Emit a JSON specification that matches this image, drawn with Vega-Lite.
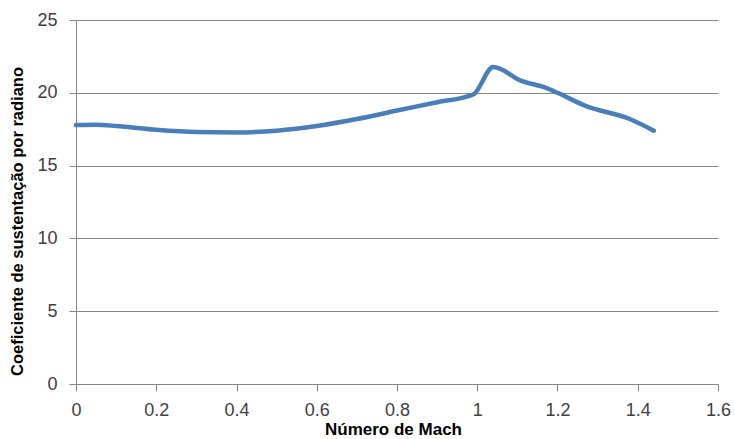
{
  "$schema": "https://vega.github.io/schema/vega-lite/v6.json",
  "width": 642,
  "height": 364,
  "autosize": "none",
  "padding": {"left": 76, "top": 20, "right": 17, "bottom": 55},
  "background": "white",
  "config": {
    "view": {"stroke": null},
    "font": "Liberation Sans",
    "axis": {
      "labelFont": "Liberation Sans",
      "labelFontSize": 18,
      "labelColor": "#404040",
      "titleFont": "Liberation Sans",
      "titleFontWeight": "bold",
      "titleColor": "#000000",
      "domainColor": "#868686",
      "tickColor": "#868686",
      "gridColor": "#868686",
      "tickSize": 7,
      "tickWidth": 1,
      "domainWidth": 1
    }
  },
  "data": {
    "values": [
      {"mach": 0.0, "cl": 17.78},
      {"mach": 0.05, "cl": 17.8},
      {"mach": 0.1, "cl": 17.72},
      {"mach": 0.2, "cl": 17.46},
      {"mach": 0.3, "cl": 17.3},
      {"mach": 0.4, "cl": 17.27},
      {"mach": 0.5, "cl": 17.4},
      {"mach": 0.6, "cl": 17.72},
      {"mach": 0.7, "cl": 18.2},
      {"mach": 0.8, "cl": 18.78},
      {"mach": 0.9, "cl": 19.35},
      {"mach": 0.99, "cl": 19.88},
      {"mach": 1.04, "cl": 21.77},
      {"mach": 1.11, "cl": 20.82},
      {"mach": 1.17, "cl": 20.35},
      {"mach": 1.2, "cl": 20.0},
      {"mach": 1.27, "cl": 19.1},
      {"mach": 1.38, "cl": 18.2},
      {"mach": 1.44, "cl": 17.4}
    ]
  },
  "mark": {
    "type": "line",
    "interpolate": "monotone",
    "color": "#4a7ebb",
    "strokeWidth": 4.5,
    "strokeCap": "round",
    "strokeJoin": "round"
  },
  "encoding": {
    "x": {
      "field": "mach",
      "type": "quantitative",
      "scale": {"domain": [0, 1.6], "nice": false, "zero": true},
      "axis": {
        "title": "Número de Mach",
        "titleFontSize": 17,
        "titleX": 317,
        "titleY": 50,
        "titleBaseline": "alphabetic",
        "values": [0, 0.2, 0.4, 0.6, 0.8, 1, 1.2, 1.4, 1.6],
        "format": "~g",
        "grid": false,
        "labelPadding": 10,
        "labelFlush": false
      }
    },
    "y": {
      "field": "cl",
      "type": "quantitative",
      "scale": {"domain": [0, 25], "nice": false},
      "axis": {
        "title": "Coeficiente de sustentação  por radiano",
        "titleFontSize": 16.5,
        "titleY": 201,
        "titleX": -59,
        "titleBaseline": "middle",
        "values": [0, 5, 10, 15, 20, 25],
        "grid": true,
        "labelPadding": 12,
        "labelFlush": false
      }
    }
  }
}
